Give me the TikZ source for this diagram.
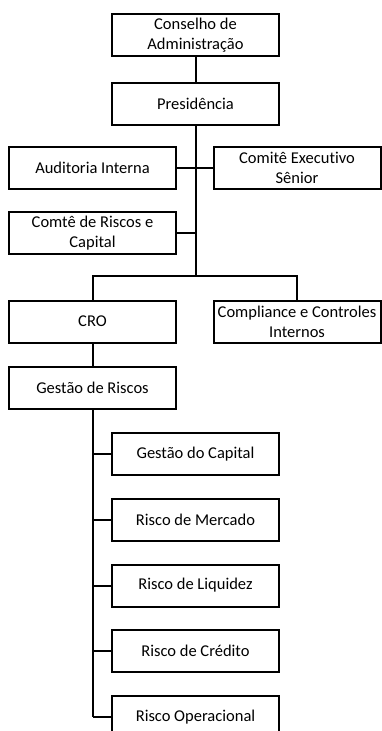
\documentclass[tikz,border=0pt]{standalone}
\usepackage{fontspec}
\setmainfont[Ligatures=NoCommon]{Carlito}
\usetikzlibrary{positioning}

\tikzset{
  cargo/.style={draw, line width=2pt, minimum width=167pt, minimum height=42pt,
    inner sep=1pt, align=center, font=\fontsize{16.5}{20}\selectfont},
  linha/.style={line width=2pt}
}

\begin{document}
\begin{tikzpicture}[x=1pt, y=-1pt]
        \useasboundingbox (0,0) rectangle (382,731);

        % Topo
        \node[cargo] (cons) at (195.5,35) {Conselho de\\Administração};
        \node[cargo] (pres) at (195.5,103.5) {Presidência};

        % Comites
        \node[cargo] (aud) at (92.5,168) {Auditoria Interna};
        \node[cargo] (cex) at (297,168) {Comitê Executivo\\Sênior};
        \node[cargo] (crc) at (92.5,233) {Comtê de Riscos e\\Capital};

        % Diretorias
        \node[cargo] (cro) at (92.5,321.5) {CRO};
        \node[cargo] (comp) at (297,321.5) {Compliance e Controles\\Internos};
        \node[cargo] (gr) at (92.5,387.5) {Gestão de Riscos};

        % Areas de risco
        \node[cargo] (gc) at (195.5,454) {Gestão do Capital};
        \node[cargo] (rm) at (195.5,519.5) {Risco de Mercado};
        \node[cargo] (rl) at (195.5,585.5) {Risco de Liquidez};
        \node[cargo] (rc) at (195.5,651) {Risco de Crédito};
        \node[cargo] (ro) at (195.5,717) {Risco Operacional};

        \coordinate (tronco) at (195.5,276);
        \coordinate (base) at (92.5,717);

        % Ligacoes
        \draw[linha] (cons) -- (pres);
        \draw[linha] (pres) -- (tronco);
        \draw[linha] (aud) -- (cex);
        \draw[linha] (crc.east) -- (crc.east -| tronco);
        \draw[linha] (cro.north) |- (tronco) -| (comp.north);
        \draw[linha] (cro) -- (gr);
        \draw[linha] (gr.south) -- (base);
        \foreach \n in {gc,rm,rl,rc,ro} {
            \draw[linha] (\n.west) -- (\n.west -| base);
        }
    \end{tikzpicture}
\end{document}
